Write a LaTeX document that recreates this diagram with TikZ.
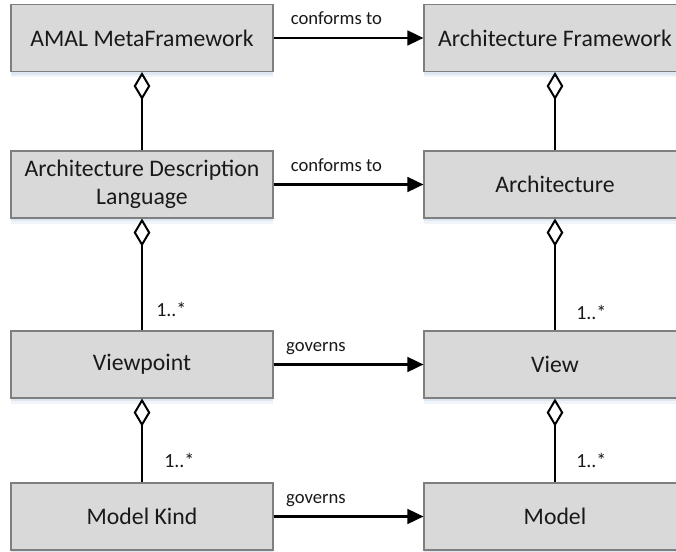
\documentclass[tikz,border=0pt]{standalone}
\usepackage{fontspec}
\setmainfont{Carlito}
\usetikzlibrary{arrows.meta,shadows}
\definecolor{boxfill}{HTML}{D9D9D9}
\definecolor{boxline}{HTML}{7F7F7F}
\definecolor{shadowc}{HTML}{D3E0EF}
\begin{document}
\begin{tikzpicture}[x=0.75pt,y=-0.75pt,
  box/.style={draw=boxline, line width=0.8pt, fill=boxfill,
    minimum width=196.5pt, minimum height=50.25pt, inner sep=2pt,
    font=\fontsize{17.8}{21}\selectfont, align=center, text=black!90,
    general shadow={fill=shadowc, shadow yshift=-2.5pt, opacity=0.6},
    general shadow={fill=shadowc, shadow yshift=-4.5pt, opacity=0.3}},
  rel/.style={line width=1.9pt, -{Triangle[length=12pt,width=11pt]}},
  agg/.style={line width=1.9pt, -{Diamond[fill=white,length=21pt,width=12.5pt,line width=1.5pt]}},
  lab/.style={font=\fontsize{14}{16}\selectfont, inner sep=0pt, text=black!90},
  mult/.style={font=\fontsize{15}{17}\selectfont, inner sep=0pt, text=black!90},
]
\useasboundingbox (0,0) rectangle (676,552);
\clip (0,0) rectangle (676,552);
\fill[white] (0,0) rectangle (676,552);

\node[box] (amal) at (142,38) {AMAL MetaFramework};
\node[box] (af)   at (555,38) {Architecture Framework};
\node[box] (adl)  at (142,184.5) {Architecture Description\\Language};
\node[box] (arch) at (555,184.5) {Architecture};
\node[box] (vp)   at (142,364.5) {Viewpoint};
\node[box] (view) at (555,364.5) {View};
\node[box] (mk)   at (142,516.5) {Model Kind};
\node[box] (model) at (555,516.5) {Model};

% horizontal relations
\draw[rel] (amal.east) -- node[lab, pos=0, anchor=base west, xshift=12pt, yshift=9.75pt] {conforms to} (af.west);
\draw[rel] (adl.east) -- node[lab, pos=0, anchor=base west, xshift=12pt, yshift=9.75pt] {conforms to} (arch.west);
\draw[rel] (vp.east) -- node[lab, pos=0, anchor=base west, xshift=8.5pt, yshift=9.75pt] {governs} (view.west);
\draw[rel] (mk.east) -- node[lab, pos=0, anchor=base west, xshift=8.5pt, yshift=9.75pt] {governs} (model.west);

% aggregations
\draw[agg] (adl.north) -- (amal.south);
\draw[agg] (arch.north) -- (af.south);
\draw[agg] (vp.north) -- node[mult, pos=0, anchor=base west, xshift=9.75pt, yshift=10.5pt] {1..*} (adl.south);
\draw[agg] (view.north) -- node[mult, pos=0, anchor=base west, xshift=15pt, yshift=8.25pt] {1..*} (arch.south);
\draw[agg] (mk.north) -- node[mult, pos=0, anchor=base west, xshift=15.75pt, yshift=11.25pt] {1..*} (vp.south);
\draw[agg] (model.north) -- node[mult, pos=0, anchor=base west, xshift=15pt, yshift=11.25pt] {1..*} (view.south);
\end{tikzpicture}
\end{document}
